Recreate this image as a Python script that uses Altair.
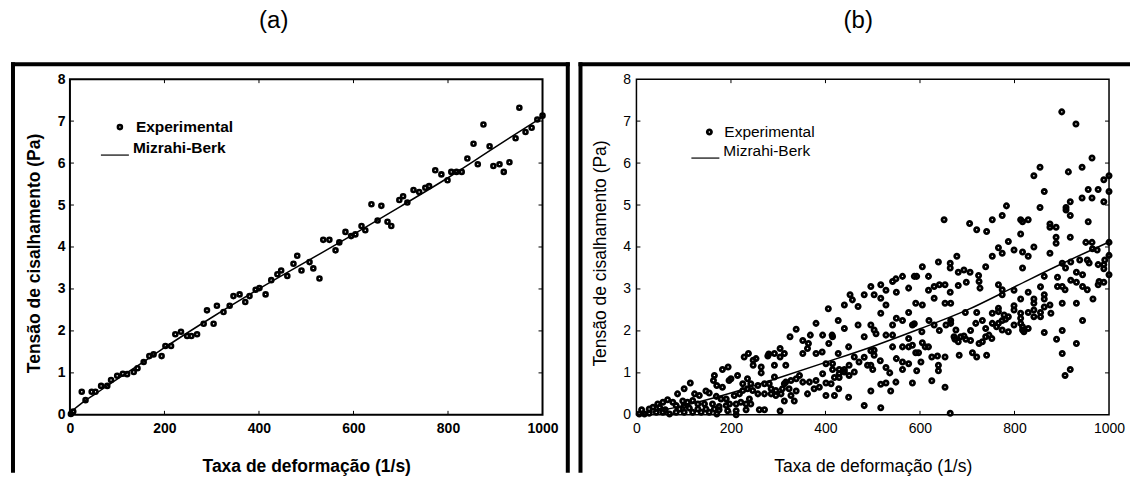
import altair as alt
import pandas as pd

FONT = "Liberation Sans"
W, H = 473, 336

# ---------------- panel (a) data ----------------
a_x = [2, 7, 25, 33, 46, 54, 66, 79, 87, 100, 112, 121, 135, 143, 156, 168, 177, 194, 202, 214,
       223, 235, 248, 257, 269, 283, 290, 304, 311, 325, 338, 346, 359, 371, 380, 393, 401, 414, 426, 439,
       447, 460, 473, 481, 490, 507, 515, 528, 536, 549, 562, 570, 583, 595, 604, 617, 625, 638, 651, 659,
       672, 680, 697, 705, 714, 727, 739, 752, 760, 773, 786, 799, 807, 818, 829, 841, 854, 863, 875, 888,
       896, 909, 918, 930, 943, 951, 964, 977, 989, 1000]
a_y = [0.02, 0.08, 0.55, 0.35, 0.55, 0.55, 0.69, 0.69, 0.83, 0.93, 0.98, 0.97, 1.02, 1.11, 1.26, 1.40, 1.44, 1.40, 1.64, 1.64,
       1.92, 1.98, 1.88, 1.88, 1.92, 2.17, 2.49, 2.17, 2.60, 2.45, 2.60, 2.83, 2.87, 2.69, 2.83, 2.98, 3.02, 2.87, 3.21, 3.35,
       3.44, 3.31, 3.60, 3.79, 3.44, 3.64, 3.49, 3.25, 4.17, 4.17, 3.92, 4.11, 4.36, 4.26, 4.30, 4.50, 4.40, 5.02, 4.63, 4.98,
       4.60, 4.50, 5.12, 5.21, 5.06, 5.36, 5.31, 5.41, 5.45, 5.83, 5.73, 5.59, 5.79, 5.79, 5.79, 6.11, 6.46, 5.97, 6.92, 6.40,
       5.93, 5.97, 5.79, 6.02, 6.59, 7.32, 6.74, 6.84, 7.04, 7.13]
a_fit_x = [0, 25, 50, 100, 150, 200, 300, 400, 500, 600, 700, 800, 900, 1000]
a_fit_y = [0.05, 0.28, 0.47, 0.85, 1.22, 1.60, 2.32, 3.00, 3.65, 4.30, 4.97, 5.65, 6.38, 7.10]

# ---------------- panel (b) data (read by region) ----------------
b_region_1 = [(237, 1.46), (228, 1.38), (247, 1.30), (247, 1.18), (194, 1.14), (182, 1.08), (214, 0.94), (165, 0.94),
              (163, 0.82), (170, 0.70), (182, 0.66), (196, 0.82), (200, 0.86), (114, 0.76), (101, 0.62), (87, 0.50),
              (123, 0.50), (133, 0.46), (147, 0.57), (154, 0.52), (169, 0.44), (179, 0.38), (190, 0.38), (207, 0.46),
              (218, 0.50), (225, 0.58), (235, 0.62), (242, 0.74), (235, 0.86), (225, 0.74), (66, 0.36), (56, 0.30),
              (45, 0.26), (35, 0.18), (11, 0.12), (77, 0.30), (98, 0.33), (108, 0.30), (119, 0.34), (130, 0.26),
              (144, 0.26), (161, 0.26), (175, 0.20), (190, 0.22), (197, 0.26), (211, 0.26), (221, 0.30), (232, 0.26),
              (239, 0.38), (232, 0.12), (211, 0.10), (193, 0.10), (170, 0.02), (154, 0.06), (137, 0.06), (119, 0.06),
              (101, 0.06), (84, 0.06), (70, 0.02), (56, 0.06), (42, 0.06), (27, 0.04), (17, 0.02), (6, 0.02),
              (61, 0.12), (91, 0.14), (112, 0.16), (130, 0.14), (147, 0.14), (165, 0.14), (211, 0.0), (175, 0.12),
              (49, 0.18), (27, 0.14), (84, 0.22), (101, 0.22)]
b_region_2 = [(253, 1.34), (264, 1.14), (264, 1.00), (278, 1.40), (280, 1.45), (292, 1.46), (304, 1.58), (304, 1.38),
              (313, 1.46), (292, 1.18), (316, 1.18), (325, 1.86), (338, 2.04), (352, 1.77), (364, 1.70), (362, 1.58),
              (368, 1.90), (380, 2.18), (394, 1.90), (414, 1.90), (415, 1.86), (407, 1.70), (406, 2.53), (427, 2.25),
              (440, 2.62), (440, 2.06), (449, 1.62), (452, 2.86), (457, 2.74), (469, 2.58), (469, 2.14), (482, 2.86),
              (482, 1.86), (352, 1.46), (380, 1.46), (393, 1.50), (401, 1.22), (427, 1.46), (415, 1.22), (415, 1.08),
              (429, 1.08), (440, 1.08), (450, 1.18), (461, 1.38), (471, 1.26), (482, 1.37), (489, 1.18), (461, 1.02),
              (450, 0.94), (440, 1.02), (429, 0.98), (429, 0.89), (419, 0.89), (412, 0.74), (394, 0.98), (380, 0.82),
              (376, 0.62), (362, 0.50), (366, 0.78), (352, 0.78), (345, 0.94), (338, 0.86), (327, 0.82), (316, 0.78),
              (323, 0.62), (313, 0.74), (306, 0.50), (295, 0.58), (292, 0.90), (281, 0.74), (271, 0.74), (257, 0.70),
              (257, 0.50), (246, 0.58), (242, 0.26), (271, 0.50), (285, 0.50), (295, 0.46), (309, 0.62), (313, 0.33),
              (334, 0.33), (285, 0.62), (338, 0.57), (327, 0.46), (260, 0.12), (271, 0.12), (304, 0.09), (401, 0.46),
              (419, 0.46), (428, 0.62), (449, 0.42), (482, 0.22), (387, 0.66), (401, 0.76)]
b_region_3 = [(496, 3.06), (503, 2.86), (517, 3.10), (528, 2.97), (517, 2.78), (528, 2.62), (517, 2.42), (542, 3.18),
              (549, 3.24), (563, 3.30), (550, 2.92), (576, 3.02), (588, 3.30), (593, 3.30), (605, 3.53), (618, 3.30),
              (618, 2.97), (630, 3.06), (639, 3.64), (641, 3.10), (653, 3.10), (664, 3.61), (664, 3.50), (664, 2.92),
              (678, 3.78), (681, 3.40), (681, 3.08), (693, 3.45), (698, 3.16), (706, 3.40), (724, 3.32), (725, 3.18),
              (727, 3.02), (739, 3.53), (753, 3.78), (665, 2.66), (653, 2.66), (630, 2.78), (591, 2.66), (605, 2.62),
              (576, 2.44), (550, 2.30), (563, 2.25), (542, 2.14), (496, 2.14), (503, 2.02), (507, 1.93), (528, 1.90),
              (542, 1.90), (584, 2.14), (588, 2.17), (604, 1.98), (619, 2.25), (630, 2.14), (641, 2.01), (655, 2.14),
              (665, 2.25), (665, 2.18), (676, 2.02), (672, 1.86), (674, 1.80), (681, 1.74), (686, 1.86), (693, 1.88),
              (697, 1.80), (707, 1.77), (707, 2.01), (718, 2.18), (720, 2.44), (732, 2.25), (739, 2.06), (746, 1.90),
              (725, 1.70), (732, 1.74), (739, 1.86), (753, 2.42), (753, 2.18), (752, 1.82), (696, 2.44), (683, 1.42),
              (711, 1.48), (720, 1.38), (741, 1.42), (576, 1.82), (563, 1.62), (576, 1.62), (584, 1.66), (605, 1.72),
              (611, 1.62), (618, 1.62), (591, 1.48), (597, 1.48), (602, 1.26), (625, 1.38), (637, 1.40), (653, 1.38),
              (542, 1.62), (550, 1.34), (563, 1.26), (576, 1.22), (563, 1.08), (593, 1.05), (639, 1.18), (639, 1.05),
              (503, 1.54), (496, 1.53), (503, 1.42), (516, 1.29), (496, 1.18), (500, 1.08), (528, 1.13), (536, 1.00),
              (549, 0.78), (517, 0.73), (528, 0.76), (538, 0.57), (496, 0.57), (584, 0.76), (625, 0.81), (653, 0.66),
              (517, 0.17), (664, 0.04)]
b_region_4 = [(766, 3.98), (774, 3.85), (799, 3.93), (817, 3.88), (829, 3.78), (841, 4.00), (875, 3.85), (817, 3.50),
              (901, 3.61), (908, 3.50), (919, 3.64), (931, 3.40), (944, 3.34), (938, 3.69), (954, 3.69), (965, 3.96),
              (975, 3.93), (958, 3.62), (977, 3.58), (989, 3.58), (989, 3.48), (991, 3.69), (1000, 3.80), (1000, 3.34),
              (979, 3.18), (989, 3.16), (977, 3.10), (919, 3.21), (931, 3.16), (944, 3.06), (954, 2.98), (966, 2.76),
              (863, 3.30), (891, 3.28), (891, 3.06), (901, 3.06), (907, 2.98), (931, 2.66), (901, 2.66), (766, 3.10),
              (774, 2.98), (774, 2.86), (799, 2.97), (813, 2.76), (829, 2.92), (841, 2.76), (841, 2.66), (855, 3.05),
              (863, 2.86), (863, 2.76), (875, 2.62), (863, 2.57), (841, 2.50), (841, 2.34), (855, 2.44), (855, 2.34),
              (829, 2.44), (813, 2.42), (813, 2.30), (813, 2.18), (799, 2.60), (799, 2.50), (787, 2.34), (778, 2.38),
              (766, 2.54), (766, 2.46), (762, 2.10), (774, 2.02), (787, 1.98), (799, 2.14), (817, 2.10), (817, 2.02),
              (820, 1.98), (829, 2.06), (766, 2.18), (774, 2.25), (781, 2.28), (877, 2.42), (863, 1.96), (944, 2.25),
              (889, 1.80), (901, 2.01), (931, 1.70), (901, 1.46), (918, 1.08), (907, 0.94)]
b_region_5 = [(651, 4.65), (705, 4.56), (720, 4.41), (741, 4.37), (753, 4.65), (774, 4.75), (783, 4.98), (787, 4.13),
              (813, 4.65), (817, 4.60), (829, 4.65), (813, 4.31), (841, 5.70), (854, 5.90), (863, 5.32), (854, 4.94),
              (875, 4.55), (875, 4.47), (888, 4.47), (888, 4.23), (888, 4.09), (900, 7.22), (909, 4.94), (909, 4.88),
              (914, 5.79), (918, 5.08), (918, 4.75), (918, 4.23), (930, 6.93), (943, 5.90), (943, 5.17), (951, 4.11),
              (956, 4.60), (956, 5.37), (964, 6.12), (964, 5.17), (964, 4.11), (977, 5.37), (989, 5.60), (989, 5.08),
              (1000, 5.70), (1000, 5.32), (1000, 4.11)]
b_fit_x = [0, 100, 200, 300, 400, 500, 600, 700, 800, 900, 1000]
b_fit_y = [0.0, 0.22, 0.52, 0.88, 1.25, 1.63, 2.05, 2.50, 3.05, 3.60, 4.12]

# ---------------- texts & ticks ----------------
x_tick_values = [0, 200, 400, 600, 800, 1000]
y_tick_values = [0, 1, 2, 3, 4, 5, 6, 7, 8]
inner_x_ticks = [200, 400, 600, 800]
inner_y_ticks = [1, 2, 3, 4, 5, 6, 7]
legend_labels = ["Experimental", "Mizrahi-Berk"]
panel_titles = ["(a)", "(b)"]
x_title = "Taxa de deformação (1/s)"
y_title = "Tensão de cisalhamento (Pa)"

b_all = b_region_1 + b_region_2 + b_region_3 + b_region_4 + b_region_5
b_x = [p[0] for p in b_all]
b_y = [p[1] for p in b_all]


def one(label=""):
    return alt.Chart(pd.DataFrame({"t": [label]}))


def panel(px, py, fx, fy, title, bold, cfg):
    weight = "bold" if bold else "normal"
    xs = alt.Scale(domain=[0, 1000], nice=False, zero=False)
    ys = alt.Scale(domain=[0, 8], nice=False, zero=False)
    xaxis = alt.Axis(values=x_tick_values, title=x_title, format="d", labelFont=FONT, labelFontSize=14,
                     labelFontWeight=weight, labelColor="black", labelPadding=7, labelFlush=False,
                     labelOverlap=False, ticks=False, tickSize=0, domain=False, grid=False,
                     titleFont=FONT, titleFontSize=17.5, titleFontWeight=weight, titleColor="black",
                     titlePadding=22)
    yaxis = alt.Axis(values=y_tick_values, title=y_title, format="d", labelFont=FONT, labelFontSize=14,
                     labelFontWeight=weight, labelColor="black", labelPadding=cfg["ylp"], labelFlush=False,
                     labelOverlap=False, ticks=False, tickSize=0, domain=False, grid=False,
                     titleFont=FONT, titleFontSize=17.5, titleFontWeight=weight, titleColor="black",
                     titlePadding=cfg["ytp"], titleY=174)
    X = alt.X("x:Q", scale=xs, axis=xaxis)
    Y = alt.Y("y:Q", scale=ys, axis=yaxis)
    pts = alt.Chart(pd.DataFrame({"x": px, "y": py})).mark_point(
        shape="circle", filled=False, stroke="black", strokeWidth=cfg["msw"], size=cfg["ms"], opacity=1
    ).encode(x=X, y=Y)
    fit = alt.Chart(pd.DataFrame({"x": fx, "y": fy})).mark_line(
        color="black", strokeWidth=1.5, interpolate="monotone"
    ).encode(x=X, y=Y)

    txd = pd.DataFrame({"x": inner_x_ticks})
    tyd = pd.DataFrame({"y": inner_y_ticks})
    tb = alt.Chart(txd).mark_rule(color="black", strokeWidth=1).encode(
        x=X, y=alt.value(H), y2=alt.value(H - 4))
    tt = alt.Chart(txd).mark_rule(color="black", strokeWidth=1).encode(
        x=X, y=alt.value(0), y2=alt.value(4))
    tl = alt.Chart(tyd).mark_rule(color="black", strokeWidth=1).encode(
        y=Y, x=alt.value(0), x2=alt.value(4))
    tr = alt.Chart(tyd).mark_rule(color="black", strokeWidth=1).encode(
        y=Y, x=alt.value(W), x2=alt.value(W - 4))

    lg = cfg["leg"]
    leg_pt = one().mark_point(shape="circle", filled=False, stroke="black", strokeWidth=cfg["msw"],
                              size=cfg["ms"], opacity=1).encode(x=alt.value(lg[0]), y=alt.value(lg[1]))
    leg_t1 = one(legend_labels[0]).mark_text(align="left", baseline="middle", font=FONT, fontSize=15.5,
                                             fontWeight=weight, color="black").encode(
        x=alt.value(lg[2]), y=alt.value(lg[3]), text="t:N")
    leg_ln = one().mark_rule(color="black", strokeWidth=1.2).encode(
        x=alt.value(lg[4]), x2=alt.value(lg[5]), y=alt.value(lg[6]))
    leg_t2 = one(legend_labels[1]).mark_text(align="left", baseline="middle", font=FONT, fontSize=15.5,
                                             fontWeight=weight, color="black").encode(
        x=alt.value(lg[7]), y=alt.value(lg[8]), text="t:N")

    ttl = one(title).mark_text(align="center", baseline="middle", font=FONT, fontSize=24,
                               color="black").encode(x=alt.value(cfg["tx"]), y=alt.value(-58), text="t:N")
    # invisible top anchor (keeps the layout top at the window edge)
    anchor = one().mark_rule(color="white", strokeWidth=1).encode(
        x=alt.value(0), x2=alt.value(2), y=alt.value(-77.5))

    borders = []
    for seg in cfg["borders"]:
        if seg[0] == "v":
            borders.append(one().mark_rule(color="black", strokeWidth=4).encode(
                x=alt.value(seg[1]), y=alt.value(seg[2]), y2=alt.value(seg[3])))
        else:
            borders.append(one().mark_rule(color="black", strokeWidth=4).encode(
                y=alt.value(seg[1]), x=alt.value(seg[2]), x2=alt.value(seg[3])))

    return alt.layer(pts, fit, tb, tt, tl, tr, leg_pt, leg_t1, leg_ln, leg_t2, ttl, anchor, *borders).properties(
        width=W, height=H, view=alt.ViewBackground(stroke="black", strokeWidth=cfg["fw"]))


cfg_a = dict(ylp=5, ytp=14, msw=2.6, ms=16, fw=2,
             leg=(50, 48, 66, 48, 31, 59, 76, 63, 69), tx=204,
             borders=[("v", -57, -17, 394), ("v", 498.3, -17, 394), ("h", -15, -59, 500.3)])
cfg_b = dict(ylp=6, ytp=13.5, msw=2.8, ms=18, fw=1.5,
             leg=(73, 53, 88, 53, 55, 83, 79, 87, 72), tx=222,
             borders=[("v", -56, -17, 394), ("h", -15, -58, 494)])

pa = panel(a_x, a_y, a_fit_x, a_fit_y, panel_titles[0], True, cfg_a)
pb = panel(b_x, b_y, b_fit_x, b_fit_y, panel_titles[1], False, cfg_b)

chart = alt.hconcat(pa, pb, spacing=2).properties(
    padding={"left": 8, "top": 0, "right": 0, "bottom": 0}, background="white"
).configure_view(stroke="black")

chart.save("out.html", embed_options={"renderer": "svg", "actions": False})
